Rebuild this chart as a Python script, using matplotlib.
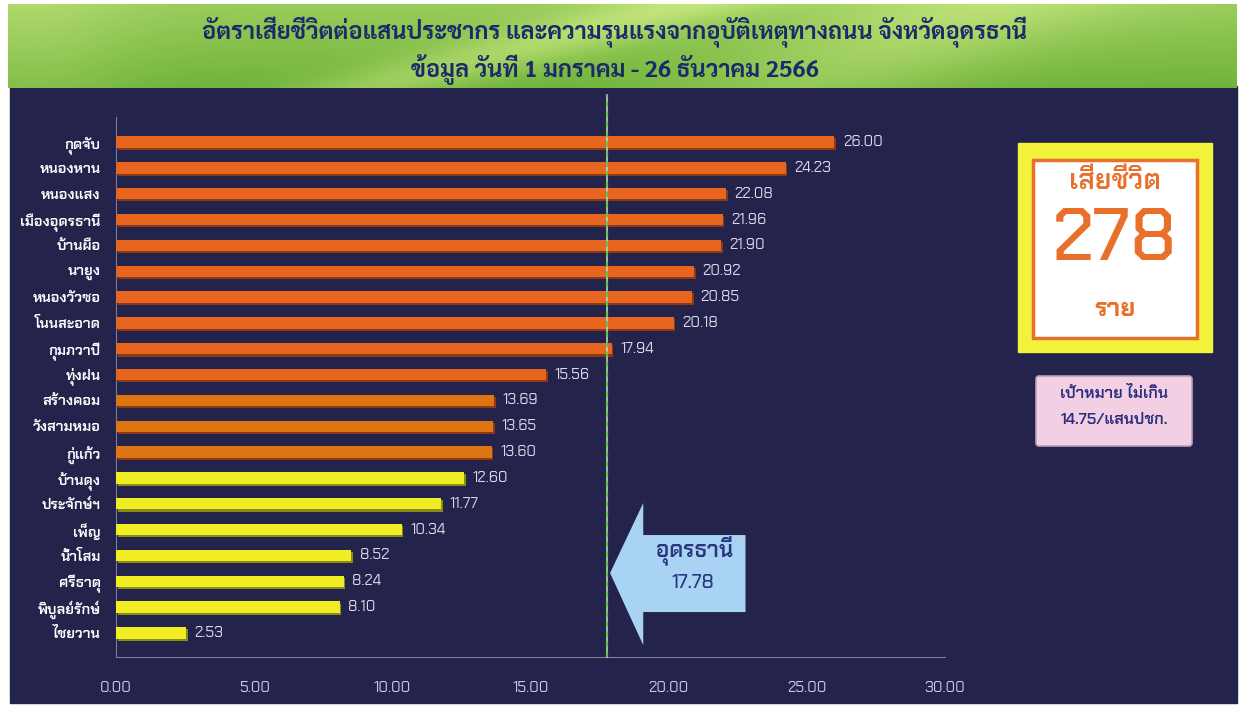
import numpy as np
import matplotlib
matplotlib.use("Agg")
import matplotlib.pyplot as plt
from matplotlib.patches import Rectangle, Polygon, FancyBboxPatch

# data
districts = ["กุดจับ", "หนองหาน", "หนองแสง", "เมืองอุดรธานี", "บ้านผือ", "นายูง",
             "หนองวัวซอ", "โนนสะอาด", "กุมภวาปี", "ทุ่งฝน", "สร้างคอม", "วังสามหมอ",
             "กู่แก้ว", "บ้านดุง", "ประจักษ์ฯ", "เพ็ญ", "น้ำโสม", "ศรีธาตุ",
             "พิบูลย์รักษ์", "ไชยวาน"]
rates = [26.00, 24.23, 22.08, 21.96, 21.90, 20.92, 20.85, 20.18, 17.94, 15.56,
         13.69, 13.65, 13.60, 12.60, 11.77, 10.34, 8.52, 8.24, 8.10, 2.53]
avg_rate = 17.78
target_rate = 14.75
deaths = 278
xticks = [0, 5, 10, 15, 20, 25, 30]

title_1 = "อัตราเสียชีวิตต่อแสนประชากร และความรุนแรงจากอุบัติเหตุทางถนน จังหวัดอุดรธานี"
title_2 = "ข้อมูล วันที่ 1 มกราคม - 26 ธันวาคม 2566"
avg_label = "อุดรธานี"
deaths_label = "เสียชีวิต"
deaths_unit = "ราย"
target_label = "เป้าหมาย ไม่เกิน"
target_unit = "14.75/แสนปชก."

thai_font = ["Chakra Petch", "DejaVu Sans"]
title_font = ["Sarabun", "Chakra Petch", "DejaVu Sans"]

navy = "#24234b"
W, H = 1245, 713

fig = plt.figure(figsize=(W / 100, H / 100), dpi=100)
fig.patch.set_facecolor("white")

# background layer in pixel units
bg = fig.add_axes([0, 0, 1, 1])
bg.set_xlim(0, W)
bg.set_ylim(H, 0)
bg.axis("off")
bg.add_patch(Rectangle((10, 86), 1227, 617, color=navy, zorder=0))

# green header
yy, xx = np.mgrid[0:1:90j, 0:1:500j]
t = 0.55 - 0.30 * yy
t += 0.30 * np.exp(-((xx - 0.30 - 0.25 * (1 - yy)) / 0.07) ** 2)
t += 0.25 * np.exp(-((xx - 0.80 + 0.15 * yy) / 0.12) ** 2)
t += 0.15 * np.exp(-((xx - 0.02) / 0.08) ** 2)
t = np.clip(t, 0, 1)
dark = np.array([0.30, 0.62, 0.12])
light = np.array([0.85, 0.95, 0.55])
img = dark + (light - dark) * t[..., None]
bg.imshow(img, extent=[8, 1237, 88, 4], aspect="auto", zorder=1, interpolation="bilinear")
bg.text(615, 33, title_1, ha="center", va="center", fontsize=17, fontweight="bold",
        color="#1b2a6b", family=title_font, zorder=2)
bg.text(615, 70, title_2, ha="center", va="center", fontsize=17, fontweight="bold",
        color="#1b2a6b", family=title_font, zorder=2)

# deaths box
bg.add_patch(Rectangle((1018, 143), 194, 209, color="#f2f23a", zorder=2))
bg.add_patch(Rectangle((1033, 160), 164, 178, facecolor="white", edgecolor="#e8702a",
                       lw=2.5, zorder=3))
bg.text(1115, 182, deaths_label, ha="center", va="center", fontsize=20, fontweight="semibold",
        color="#e8702a", family=thai_font, zorder=4)
bg.text(1115, 234, str(deaths), ha="center", va="center_baseline", fontsize=53,
        fontweight="medium", color="#e8702a", family=thai_font, zorder=4)
bg.text(1115, 310, deaths_unit, ha="center", va="center", fontsize=18, fontweight="bold",
        color="#e8702a", family=thai_font, zorder=4)

# target box
bg.add_patch(FancyBboxPatch((1036, 376), 156, 70, boxstyle="round,pad=0,rounding_size=3",
                            facecolor="#f3cfe3", edgecolor="#b8a0b8", lw=1.2, zorder=2))
bg.text(1114, 394, target_label, ha="center", va="center", fontsize=11.5, fontweight="semibold",
        color="#2a2f80", family=thai_font, zorder=3)
bg.text(1114, 420, target_unit, ha="center", va="center", fontsize=11.5, fontweight="semibold",
        color="#2a2f80", family=thai_font, zorder=3)

# bar chart
ax = fig.add_axes([116 / W, 1 - 657 / H, 829 / W, 540 / H])
ax.set_facecolor("none")
idx = np.arange(len(rates))
colors = []
for r in rates:
    if r > target_rate:
        colors.append("#e8651f")
    elif r >= 13:
        colors.append("#de7412")
    else:
        colors.append("#f0ee22")
shadow = ["#8a3a14" if c != "#f0ee22" else "#8c8a18" for c in colors]
ax.barh(idx + 0.08, rates, height=0.44, left=0.06, color=shadow, zorder=2)
ax.barh(idx, rates, height=0.44, color=colors, zorder=3)
for i, r in enumerate(rates):
    ax.text(r + 0.3, i, "%.2f" % r, va="center", ha="left", fontsize=11,
            color="#d8d8ec", family=thai_font, zorder=4)

ax.set_xlim(0, 30)
ax.set_ylim(19.93, -0.97)
ax.set_xticks(xticks)
ax.set_xticklabels(["%.2f" % x for x in xticks])
ax.set_yticks(idx)
ax.set_yticklabels(districts)
ax.tick_params(axis="x", length=0, pad=17, labelsize=11, labelcolor="#c8c8e6")
ax.tick_params(axis="y", length=0, pad=11, labelsize=10.5, labelcolor="white")
for lab in ax.get_xticklabels():
    lab.set_family(thai_font)
for lab in ax.get_yticklabels():
    lab.set_family(thai_font)
    lab.set_fontweight("semibold")
for s in ["top", "right"]:
    ax.spines[s].set_visible(False)
for s in ["left", "bottom"]:
    ax.spines[s].set_color("#7c7c9c")
    ax.spines[s].set_linewidth(0.8)

# provincial average line and arrow
ax.axvline(avg_rate, ymin=0, ymax=1.04, color="#c8c8d8", lw=1.2, clip_on=False, zorder=5)
ax.axvline(avg_rate, ymin=0, ymax=1.04, color="#5cc83c", lw=1.6, ls=(0, (2.5, 2)),
           clip_on=False, zorder=6)
arrow = Polygon([(avg_rate + 0.1, 16.68), (avg_rate + 1.3, 13.97), (avg_rate + 1.3, 15.21),
                 (avg_rate + 5.0, 15.21), (avg_rate + 5.0, 18.19), (avg_rate + 1.3, 18.19),
                 (avg_rate + 1.3, 19.47)], closed=True, facecolor="#a9d3f2",
                edgecolor="none", zorder=5, clip_on=False)
ax.add_patch(arrow)
ax.text(avg_rate + 3.15, 15.79, avg_label, ha="center", va="center", fontsize=16,
        fontweight="semibold", color="#2a3580", family=thai_font, zorder=6)
ax.text(avg_rate + 3.1, 17.07, "%.2f" % avg_rate, ha="center", va="center", fontsize=14,
        fontweight="medium", color="#2a3580", family=thai_font, zorder=6)

fig.savefig("out.png", dpi=100, facecolor=fig.get_facecolor())
